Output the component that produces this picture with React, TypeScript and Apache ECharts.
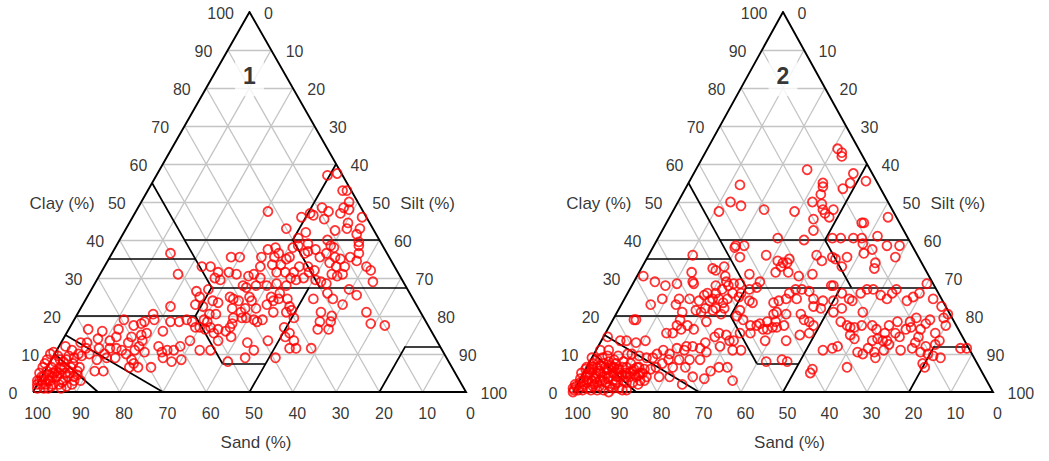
import React, { useEffect, useRef } from "react";
import * as echarts from "echarts";

// Each sample: [sand %, clay %]; silt % = 100 - sand - clay
type SC = [number, number];

const TICKS = [0, 10, 20, 30, 40, 50, 60, 70, 80, 90, 100];
const GRID_LEVELS = [10, 20, 30, 40, 50, 60, 70, 80, 90];
const PANEL_LABELS = ["1", "2"];
const CLAY_TITLE = "Clay (%)";
const SILT_TITLE = "Silt (%)";
const SAND_TITLE = "Sand (%)";

// USDA texture-class boundaries, as [sand, clay] end points
const CLASS_LINES: [SC, SC][] = [
  [[45, 55], [45, 27.5]],
  [[65, 35], [45, 35]],
  [[45, 27.5], [52.5, 20]],
  [[80, 20], [52.5, 20]],
  [[52.5, 20], [52.5, 7.5]],
  [[52.5, 7.5], [42.5, 7.5]],
  [[50, 0], [22.5, 27.5]],
  [[45, 27.5], [0, 27.5]],
  [[45, 40], [0, 40]],
  [[0, 60], [20, 40]],
  [[20, 40], [20, 27.5]],
  [[20, 0], [8, 12]],
  [[8, 12], [0, 12]],
  [[85, 15], [70, 0]],
  [[90, 10], [85, 0]],
];

const SAMPLES_1: SC[] = [
  [3.5, 57], [1, 57.5], [2, 53], [1, 53], [2, 50], [4, 48.5], [3, 48], [5.5, 47], [9, 48.5], [8, 47.5],
  [12.5, 47], [12, 46.5], [15, 46], [10, 45.5], [1, 46], [5, 44.5], [9, 42.5], [6, 43], [3, 43], [20, 43],
  [16, 42], [22, 47.5], [18.5, 40.5], [17, 39], [12, 40], [4.5, 41.5],
  [50, 36.5], [51, 31], [44.5, 33], [42.5, 33], [43, 30], [41.5, 31.5], [42, 29.5], [39, 31.5], [37.5, 31],
  [36.5, 35.5], [34.5, 35.5], [35, 30.5], [33.5, 31], [32.5, 30], [34.5, 28], [32, 28], [29.5, 35.5],
  [27, 37.5], [25, 38], [26.5, 35.5], [25, 36.5], [28, 33.5], [26, 33.5], [24, 35], [23, 35.5], [21, 38],
  [19.5, 38.5], [19, 36.5], [18, 37], [16, 37.5], [16, 35.5], [26, 31.5], [25.5, 30], [24.5, 29.5],
  [22.5, 30], [29.5, 28.5], [27.5, 28], [20, 29.5], [19, 29], [18, 28.5], [15.5, 31], [14.5, 30.5],
  [14.5, 34], [13.5, 33], [11.5, 35], [11.5, 33], [9, 35.5], [8, 34.5], [6.5, 36.5], [5.5, 38.5], [5, 39.5],
  [11.5, 38], [12, 38.5], [14, 36.5], [19, 32], [20.5, 31.5], [6.5, 33], [6, 32], [7, 29], [13, 31],
  [12.5, 35.5], [20, 33], [22, 33], [24, 31.5], [37, 27.5], [37.5, 28], [28, 31.5], [31, 33],
  [49, 26.5], [49, 25], [46, 27], [51, 23], [49.5, 22.5], [46.5, 24], [45.5, 23.5], [49, 20.5], [47.5, 20.5],
  [51, 19], [50.5, 18.5], [53, 17], [52, 16.5], [50.5, 17], [50.5, 15.5], [49, 16.5], [50.5, 13.5],
  [47.5, 16], [46, 17], [45, 18], [47, 14.5], [42, 25], [41.5, 24.5], [40.5, 24], [43, 22], [41.5, 21],
  [40, 22], [37.5, 25], [37.5, 24], [37.5, 22], [41, 19.5], [39.5, 19], [39, 18.5], [37.5, 19], [44, 19.5],
  [42, 19.5], [44, 13], [43.5, 11], [46.5, 9], [51, 8], [34.5, 23], [32.5, 25], [32.5, 24], [31, 24.5],
  [30, 26], [29, 24.5], [29.5, 22.5], [29.5, 21.5], [31, 21], [34, 21], [39, 13.5], [39.5, 9], [33.5, 17],
  [34.5, 14.5], [33, 15.5], [33, 13.5], [33.5, 11.5], [30, 19.5],
  [23, 24.5], [19, 26], [18.5, 24.5], [17, 23], [13.5, 27], [12.5, 25.5], [23, 21], [24.5, 18.5], [26, 16.5],
  [23.5, 16.5], [22, 18.5], [21, 20], [12.5, 21], [13, 18], [10, 17.5], [30, 11.5], [35, 11.5],
  [79, 16.5], [76, 16], [72, 16.5], [69.5, 19], [68, 17.5], [66, 18], [65, 18.5], [62, 20.5], [62.5, 19],
  [57, 22.5], [59, 18.5], [57, 18.5], [55, 19], [54, 18.5], [54, 17], [62, 16], [66, 15.5], [67.5, 15],
  [70, 14.5], [71.5, 13], [73.5, 14.5], [75.5, 13.5], [78, 14], [81, 13], [82.5, 13], [82, 11.5], [79, 11.5],
  [76.5, 11.5], [74, 11], [73.5, 10], [73, 8.5], [72.5, 6.5], [69.5, 6.5], [65, 12], [65, 10.5], [63.5, 11],
  [62, 11], [60, 12], [57, 13.5], [56, 11], [53.5, 11], [65.5, 9], [64, 8], [61.5, 8.5], [68, 13.5],
  [69, 10.5], [71, 11], [73, 7.5], [74.5, 6.5], [76.5, 9], [78.5, 9], [81, 8.5], [83, 5.5], [81, 5.5],
  [84.5, 10], [85.5, 11], [86, 9], [87, 9.5], [86.5, 12], [84, 9.5], [82, 10], [78.5, 10], [75, 11.5], [69.5, 12],
  [97.5, 3], [96, 5], [94.5, 6.5], [92.5, 8.5], [91, 10], [90, 10.5], [95.5, 4], [94, 5.5], [92.5, 6.5], [91, 8],
  [89.5, 9.5], [97, 2], [96, 2], [94.5, 3], [93.5, 4], [92, 5.5], [90.5, 6.5], [89, 8], [88, 8.5], [88, 6.5],
  [87, 7.5], [87, 5.5], [87.5, 3], [90, 4], [91.5, 3], [93, 2], [95, 1.5], [96, 1], [93, 1], [90, 2],
  [87.5, 4.5], [98.5, 1], [97, 1], [92.5, 4], [90, 5], [89, 5], [89.5, 8.5], [92.5, 5], [94, 4.5], [93.5, 7.5],
  [89, 3], [86, 6.5], [90.5, 6], [91.5, 1.5], [96, 4], [97, 3], [95, 3], [93, 5], [91.5, 5], [89.5, 6.5],
  [88.5, 4], [92, 2.5], [94.5, 2], [96.5, 3], [98, 2],
];

const SAMPLES_2: SC[] = [
  [5, 64], [4.5, 63], [5, 62], [15, 58.5], [4.5, 57.5], [6.5, 55], [9, 53.5], [2.5, 55.5], [13, 55], [13.5, 54],
  [15, 52], [18, 50], [16, 49.5], [16.5, 48], [16.5, 47], [14, 48], [16, 46], [20, 45.5], [21.5, 42.5], [9, 44.5],
  [8.5, 44.5], [2, 46], [33, 54.5], [37.5, 50], [35.5, 49], [41.5, 47.5], [30.5, 48], [23.5, 47.5], [25, 40],
  [16, 40.5], [13, 40.5], [11, 40.5], [7, 41], [11.5, 39], [10, 37.5], [6, 38.5], [3, 38.5], [18, 40.5], [31, 40.5],
  [42, 38.5], [40, 38.5], [42.5, 38], [42.5, 35.5], [36, 36], [34, 34.5], [33, 34], [32, 34], [34, 33], [31, 35],
  [33, 31.5], [31, 30.5], [36, 31.5], [42.5, 31], [41, 29], [27.5, 31], [24, 36], [23.5, 34.5], [20.5, 35.5],
  [20, 35], [19.5, 33], [17, 35.5], [12.5, 36.5], [11, 34], [5.5, 35.5], [12, 32.5], [24, 28], [30.5, 26.5],
  [53.5, 36], [50.5, 32.5], [47.5, 33], [48.5, 30.5], [49, 28], [47.5, 28.5], [46, 28.5], [42.5, 27.5],
  [47, 26], [44.5, 27],
  [68, 30.5], [66, 29], [64, 28], [61, 28.5], [57, 28.5], [56, 31.5], [50, 32], [57, 29], [70, 23], [66.5, 24.5],
  [64, 23], [62.5, 24.5], [60, 24.5], [58, 24], [56, 25.5], [55, 26], [55.5, 24], [53, 26], [53, 24.5],
  [52.5, 23.5], [53, 22], [51, 24.5], [51, 27], [49, 26], [48, 25], [60, 21.5], [59, 21], [57.5, 22], [56, 21.5],
  [54.5, 24.5], [55, 22], [54.5, 20.5], [52, 28], [49, 29], [76, 19], [63.5, 21], [65, 19], [66.5, 17.5],
  [70, 15.5], [68.5, 15.5], [66, 16.5], [64, 17.5], [63, 16.5], [59, 18.5],
  [46, 24], [45.5, 23.5], [49.5, 21.5], [50, 19], [49, 17.5], [47.5, 17.5], [46.5, 16.5], [45.5, 16.5], [44, 17],
  [43, 17], [41, 17.5], [41, 21], [40.5, 23.5], [39, 24], [37, 24.5], [35.5, 26], [33.5, 27], [32, 27],
  [34.5, 24.5], [42, 20.5], [39, 20.5], [35.5, 20.5], [35.5, 19], [34.5, 18.5], [38.5, 15], [36, 15.5],
  [34, 17.5], [31.5, 22.5], [30.5, 24.5], [28.5, 24], [30, 22], [24.5, 28], [27.5, 21], [47.5, 13.5],
  [42.5, 13.5], [46.5, 18], [44.5, 18.5], [42.5, 18.5], [51, 20], [55, 13.5], [54.5, 11], [50, 8], [46, 8.5],
  [45, 8], [40, 6], [41, 5], [35, 11], [32.5, 11.5], [31, 12], [50, 15.5], [52.5, 15.5],
  [23, 26], [22, 24.5], [18.5, 26], [16.5, 27], [15, 27], [14, 25.5], [13, 24.5], [11, 26], [9.5, 27], [8.5, 24],
  [6.5, 25], [4.5, 26], [1.5, 28.5], [2, 24.5], [1, 22.5], [0.5, 20.5], [21.5, 24], [20.5, 21], [25, 22],
  [26, 24], [27, 18.5], [26, 17.5], [25.5, 17], [24.5, 17], [22.5, 17.5], [20, 17.5], [19.5, 16.5], [18, 15.5],
  [16, 17.5], [13.5, 18.5], [15.5, 15.5], [15, 14.5], [12.5, 16.5], [11, 17], [12, 13], [9, 16.5], [7, 18],
  [6, 15.5], [2.5, 17.5], [10.5, 14.5], [27, 10.5], [26, 10], [24, 11.5], [23, 10.5], [23.5, 9], [20.5, 11],
  [18.5, 12.5], [20.5, 14], [19.5, 13.5], [18.5, 13.5], [16.5, 11], [13.5, 11.5], [12, 10.5], [10, 12],
  [10.5, 10], [9.5, 9.5], [13, 7.5], [13, 6.5], [8, 9], [31.5, 6.5], [26, 14], [2, 11.5], [0.5, 11.5], [7.5, 12.5],
  [6, 13.5], [8.5, 19.5], [10.5, 18.5], [5.5, 19], [2, 19.5], [22, 13.5], [26.5, 15],
  [75.5, 19], [84.5, 14.5], [88, 11], [86, 11], [82, 13.5], [80.5, 13.5], [78.5, 13], [76, 13.5], [87, 9.5],
  [86, 8.5], [84.5, 9.5], [82, 10], [81, 10], [79.5, 9.5], [78, 9], [76.5, 9], [75, 10], [73, 11], [72, 10],
  [69.5, 11.5], [68, 11], [67, 12], [65.5, 12], [64, 11.5], [62, 13], [59, 14.5], [57.5, 15.5], [56, 15],
  [56, 13.5], [56.5, 11], [59, 12], [63, 10.5], [65.5, 8.5], [68, 8.5], [70.5, 8.5], [73, 8.5], [75, 7.5],
  [77, 6.5], [78.5, 6], [81, 5], [83, 4.5], [85, 5], [86, 6], [87, 6.5], [77.5, 4], [75, 4], [73, 2], [69.5, 4],
  [67, 3.5], [64.5, 5.5], [62, 6.5], [60, 6.5], [60.5, 3], [73, 6.5], [70, 6.5], [82.5, 3], [86, 2.5], [88, 0.5],
  [81.5, 6.5], [82.5, 7.5],
  [99.5, 0.5], [98.5, 1.5], [97, 2.5], [96, 3], [95, 4], [93.5, 5], [92.5, 6], [91, 6.5], [90, 7], [89, 7.5],
  [98.5, 0.5], [97.5, 0.5], [96, 1], [94.5, 1.5], [93, 2.5], [91.5, 3], [89.5, 4], [88, 5], [86.5, 6], [95.5, 0.5],
  [94, 0.5], [92.5, 0.5], [90.5, 1.5], [88.5, 2.5], [86.5, 3], [84.5, 4], [83, 4], [81.5, 5], [81.5, 3],
  [84.5, 2.5], [87, 4], [89, 3], [91, 2.5], [93, 1.5], [95.5, 2.5], [94, 3], [92.5, 4], [91, 5], [89, 6],
  [87.5, 6.5], [86, 7.5], [89, 6.5], [92, 6.5], [92, 5], [95.5, 5], [94, 6], [98.5, 2], [100, 0], [99.5, 1],
  [91.5, 0], [88.5, 1], [87, 0.5], [82.5, 6], [81, 6.5], [80, 6], [80.5, 4], [87.5, 8], [91, 5.5], [87.5, 4],
  [84, 6.5], [84, 8], [83.5, 2], [93.5, 6.5], [90, 8.5], [91, 9], [88.5, 9],
  [97, 1.5], [96.5, 2], [95, 3], [94, 2], [93, 3.5], [92, 3], [91, 4], [90, 3.5], [89.5, 5], [88.5, 6],
  [87.5, 7], [86.5, 5], [85.5, 4], [85, 6.5], [84, 5], [83, 5.5], [82, 4.5], [90, 1], [89, 2], [86, 4.5],
  [96.5, 3.5], [94.5, 4.5], [93, 6], [91.5, 7.5],
];

const SAMPLES = [SAMPLES_1, SAMPLES_2];

const LAYOUT = [
  { left: 33, top: 12, width: 433, height: 380 },
  { left: 573, top: 12, width: 420, height: 380 },
];

const FONT = "'Liberation Sans', Arial, sans-serif";

// ternary (sand, clay) -> plotting plane (x = silt + clay/2, y = clay)
const toXY = ([sand, clay]: SC): [number, number] => {
  const silt = 100 - sand - clay;
  return [silt + clay / 2, clay];
};

function panelSeries(i: number): any[] {
  const axes = { xAxisIndex: i, yAxisIndex: i };
  const gridSegs: any[] = [];
  for (const v of GRID_LEVELS) {
    gridSegs.push({ coords: [toXY([100 - v, v]), toXY([0, v])] });
    gridSegs.push({ coords: [toXY([v, 100 - v]), toXY([v, 0])] });
    gridSegs.push({ coords: [toXY([100 - v, 0]), toXY([0, 100 - v])] });
  }
  const labels: any[] = [
    ...TICKS.map((c) => ({
      name: String(c),
      value: toXY([100 - c, c]),
      label: { position: "left", distance: 15, offset: [0, 1] },
    })),
    ...TICKS.map((t) => ({
      name: String(t),
      value: toXY([0, 100 - t]),
      label: { position: "right", distance: 14, offset: [0, 1] },
    })),
    ...TICKS.map((s) => ({
      name: String(s),
      value: toXY([s, 0]),
      label: { position: "bottom", distance: 13, offset: [4.5, 0] },
    })),
    {
      name: CLAY_TITLE,
      value: toXY([50, 50]),
      label: { position: "left", distance: 46, offset: [0, 1], fontSize: 17 },
    },
    {
      name: SILT_TITLE,
      value: toXY([0, 50]),
      label: { position: "right", distance: 42, offset: [0, 1], fontSize: 17 },
    },
    {
      name: SAND_TITLE,
      value: toXY([50, 0]),
      label: { position: "bottom", distance: 41, offset: [6.5, 0], fontSize: 17 },
    },
  ];
  return [
    {
      type: "lines",
      coordinateSystem: "cartesian2d",
      ...axes,
      silent: true,
      z: 1,
      lineStyle: { color: "#c4c4c4", width: 1.3, opacity: 1 },
      data: gridSegs,
    },
    {
      type: "scatter",
      ...axes,
      silent: true,
      z: 2,
      clip: false,
      symbolSize: 1,
      itemStyle: { color: "rgba(0,0,0,0)" },
      data: [{ name: PANEL_LABELS[i], value: toXY([8.4, 83.2]) }],
      label: {
        show: true,
        position: "inside",
        formatter: "{b}",
        color: "#000",
        fontFamily: FONT,
        fontWeight: "bold",
        fontSize: 23,
        lineHeight: 23,
        backgroundColor: "#ffffff",
        padding: [9, 8],
      },
    },
    {
      type: "lines",
      coordinateSystem: "cartesian2d",
      ...axes,
      silent: true,
      z: 3,
      lineStyle: { color: "#000", width: 1.7, opacity: 1 },
      data: CLASS_LINES.map(([a, b]) => ({ coords: [toXY(a), toXY(b)] })),
    },
    {
      type: "lines",
      coordinateSystem: "cartesian2d",
      polyline: true,
      ...axes,
      silent: true,
      z: 3,
      lineStyle: { color: "#000", width: 1.9, opacity: 1, join: "miter" },
      data: [{ coords: [toXY([100, 0]), toXY([0, 0]), toXY([0, 100]), toXY([100, 0])] }],
    },
    {
      type: "scatter",
      ...axes,
      silent: true,
      z: 4,
      clip: false,
      symbol: "circle",
      symbolSize: 9,
      itemStyle: { color: "rgba(255,255,255,0)", borderColor: "#f00", borderWidth: 1.8 },
      data: SAMPLES[i].map(toXY),
    },
    {
      type: "scatter",
      ...axes,
      silent: true,
      z: 6,
      clip: false,
      symbolSize: 1,
      itemStyle: { color: "rgba(0,0,0,0)" },
      label: { show: true, formatter: "{b}", color: "#000", fontSize: 16, fontFamily: FONT },
      data: labels,
    },
  ];
}

export default function App() {
  const ref = useRef<HTMLDivElement>(null);
  useEffect(() => {
    if (!ref.current) return;
    const chart = echarts.init(ref.current, undefined, { renderer: "svg" });
    chart.setOption({
      animation: false,
      backgroundColor: "#ffffff",
      grid: LAYOUT.map((g) => ({ ...g })),
      xAxis: LAYOUT.map((_, i) => ({ type: "value", gridIndex: i, min: 0, max: 100, show: false })),
      yAxis: LAYOUT.map((_, i) => ({ type: "value", gridIndex: i, min: 0, max: 100, show: false })),
      series: LAYOUT.flatMap((_, i) => panelSeries(i)),
    });
    return () => chart.dispose();
  }, []);
  return (
    <div
      ref={ref}
      style={{ position: "fixed", left: 0, top: 0, width: 1049, height: 461, background: "#fff" }}
    />
  );
}
